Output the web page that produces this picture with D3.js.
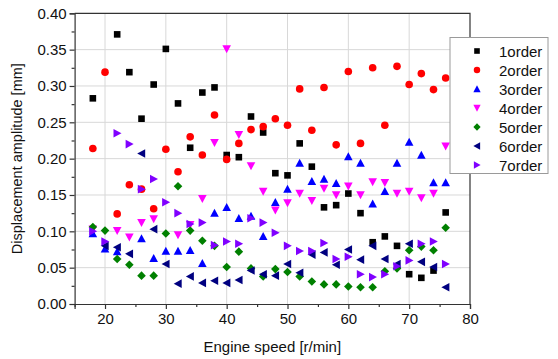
<!DOCTYPE html>
<html><head><meta charset="utf-8">
<script src="https://cdn.jsdelivr.net/npm/d3@7"></script>
<style>body{margin:0;background:#fff}svg{display:block;font-family:Arial,"Liberation Sans",sans-serif}</style>
</head><body>
<svg id="c" width="558" height="359"></svg>
<script>
const speed = [18,20,22,24,26,28,30,32,34,36,38,40,42,44,46,48,50,52,54,56,58,60,62,64,66,68,70,72,74,76];
const order1 = [0.283,null,0.371,0.319,0.255,0.302,0.351,0.276,0.215,0.291,0.298,0.205,0.202,0.258,0.236,0.180,0.177,0.221,0.189,0.133,0.136,0.152,0.125,0.085,0.093,0.080,0.041,0.036,0.046,0.126];
const order2 = [0.214,0.319,0.124,0.164,0.158,0.131,0.213,0.182,0.230,0.205,0.260,0.199,0.221,0.240,0.244,0.255,0.246,0.296,0.239,0.298,0.219,0.320,0.221,0.325,0.246,0.327,0.302,0.317,0.295,0.311];
const order3 = [0.097,0.076,0.072,null,0.090,0.063,0.073,0.073,0.074,0.056,0.125,0.133,0.118,0.121,0.093,0.140,0.158,0.194,0.169,0.172,0.166,0.203,0.194,0.138,0.155,0.194,0.223,0.205,0.167,0.167];
const order4 = [0.103,null,0.101,0.092,0.112,0.117,null,0.095,0.109,0.145,0.222,0.351,0.233,0.190,0.155,0.129,0.139,0.152,0.142,0.159,0.150,0.162,0.150,0.168,0.167,0.152,0.155,0.146,0.152,0.217];
const order5 = [0.106,0.101,0.062,0.054,0.039,0.039,0.097,0.162,0.101,0.087,0.080,0.051,0.072,0.049,0.038,0.048,0.044,0.038,0.031,0.027,0.027,0.024,0.023,0.023,0.045,0.049,0.074,0.079,0.074,0.105];
const order6 = [null,0.080,0.078,0.069,0.207,0.103,0.055,0.028,0.038,0.029,0.032,0.029,0.033,0.046,0.041,0.039,0.055,0.043,0.068,0.071,0.054,0.075,0.061,0.080,0.062,0.055,0.083,0.058,0.051,0.023];
const order7 = [0.100,0.086,0.235,0.220,0.158,0.172,0.140,0.125,0.110,0.112,0.081,0.086,0.083,0.118,0.112,0.098,0.080,0.073,0.073,0.084,0.062,0.065,0.041,0.037,0.041,0.052,0.060,0.083,0.086,0.055];
const seriesNames = ["1order","2order","3order","4order","5order","6order","7order"];
const seriesColors = ["#000000","#ff0000","#0000ff","#ff00ff","#008000","#000080","#8000ff"];
const seriesShapes = ["square","circle","up","down","diamond","left","right"];
const xTicks = [20,30,40,50,60,70,80];
const yTicks = [0,0.05,0.1,0.15,0.2,0.25,0.3,0.35,0.4];

const series = [order1,order2,order3,order4,order5,order6,order7];
const svg = d3.select("#c");
const L=74.6, R=470, T=13.3, B=304;
const x = d3.scaleLinear().domain([15,80]).range([L,R]);
const y = d3.scaleLinear().domain([0,0.4]).range([B,T]);

function shapePath(s, k){
  k = k||1;
  if(s==="square"){const h=3.3*k;return `M${-h},${-h}H${h}V${h}H${-h}Z`;}
  if(s==="circle"){const r=3.8*k;return `M${r},0A${r},${r} 0 1,1 ${-r},0A${r},${r} 0 1,1 ${r},0Z`;}
  if(s==="diamond"){const h=4.3*k;return `M0,${-h}L${h},0L0,${h}L${-h},0Z`;}
  const a=4.3*k, b=3.7*k;
  if(s==="up") return `M0,${-a}L${a},${b}L${-a},${b}Z`;
  if(s==="down") return `M0,${a}L${a},${-b}L${-a},${-b}Z`;
  if(s==="left") return `M${-a},0L${b},${-a}L${b},${a}Z`;
  if(s==="right") return `M${a},0L${-b},${-a}L${-b},${a}Z`;
}

// grid
const g = svg.append("g");
g.selectAll(".vg").data(xTicks.filter(d=>d>15&&d<80)).enter().append("line")
 .attr("x1",d=>x(d)).attr("x2",d=>x(d)).attr("y1",T).attr("y2",B)
 .attr("stroke","#d8d8d8").attr("stroke-width",1);
g.selectAll(".hg").data(yTicks.filter(d=>d>0&&d<0.4)).enter().append("line")
 .attr("x1",L).attr("x2",R).attr("y1",d=>y(d)).attr("y2",d=>y(d))
 .attr("stroke","#d8d8d8").attr("stroke-width",1);

// frame top/right
svg.append("path").attr("d",`M${L},${T}H${R}V${B}`).attr("fill","none").attr("stroke","#333").attr("stroke-width",1.2);

// axes
const xAxis = d3.axisBottom(x).tickValues(xTicks).tickSize(5).tickPadding(4).tickFormat(d3.format("d"));
svg.append("g").attr("transform",`translate(0,${B})`).call(xAxis);
const xMinor = d3.axisBottom(x).tickValues([15,25,35,45,55,65,75]).tickSize(3).tickFormat("");
svg.append("g").attr("transform",`translate(0,${B})`).call(xMinor).select(".domain").remove();
const yAxis = d3.axisLeft(y).tickValues(yTicks).tickSize(5).tickPadding(3).tickFormat(d3.format(".2f"));
svg.append("g").attr("transform",`translate(${L},0)`).call(yAxis);
const yMinor = d3.axisLeft(y).tickValues([0.025,0.075,0.125,0.175,0.225,0.275,0.325,0.375]).tickSize(3).tickFormat("");
svg.append("g").attr("transform",`translate(${L},0)`).call(yMinor).select(".domain").remove();
svg.selectAll(".domain").attr("stroke","#333").attr("stroke-width",1.2);
svg.selectAll(".tick line").attr("stroke","#333").attr("stroke-width",1.2);
svg.selectAll(".tick text").attr("font-size",15).attr("fill","#111").attr("font-family","Arial, Liberation Sans, sans-serif");

// titles
svg.append("text").attr("x",(L+R)/2).attr("y",352).attr("text-anchor","middle")
 .attr("font-size",15).attr("fill","#111").text("Engine speed [r/min]");
svg.append("text").attr("transform",`translate(22,${(T+B)/2}) rotate(-90)`).attr("text-anchor","middle")
 .attr("font-size",14.5).attr("fill","#111").text("Displacement amplitude [mm]");

// points
series.forEach((vals,i)=>{
  const pts = speed.map((s,j)=>({s,v:vals[j]})).filter(d=>d.v!=null);
  svg.append("g").selectAll("path").data(pts).enter().append("path")
    .attr("d",shapePath(seriesShapes[i]))
    .attr("transform",d=>`translate(${x(d.s)},${y(d.v)})`)
    .attr("fill",seriesColors[i]);
});

// legend
const lg = svg.append("g");
lg.append("rect").attr("x",450).attr("y",37.5).attr("width",98).attr("height",136)
  .attr("fill","#fff").attr("stroke","#9a9a9a").attr("stroke-width",1);
seriesNames.forEach((n,i)=>{
  const yy = 51 + i*19;
  lg.append("path").attr("d",shapePath(seriesShapes[i],0.85)).attr("transform",`translate(477,${yy})`).attr("fill",seriesColors[i]);
  lg.append("text").attr("x",499).attr("y",yy+5.5).attr("font-size",15).attr("fill","#111").text(n);
});
</script>
</body></html>
